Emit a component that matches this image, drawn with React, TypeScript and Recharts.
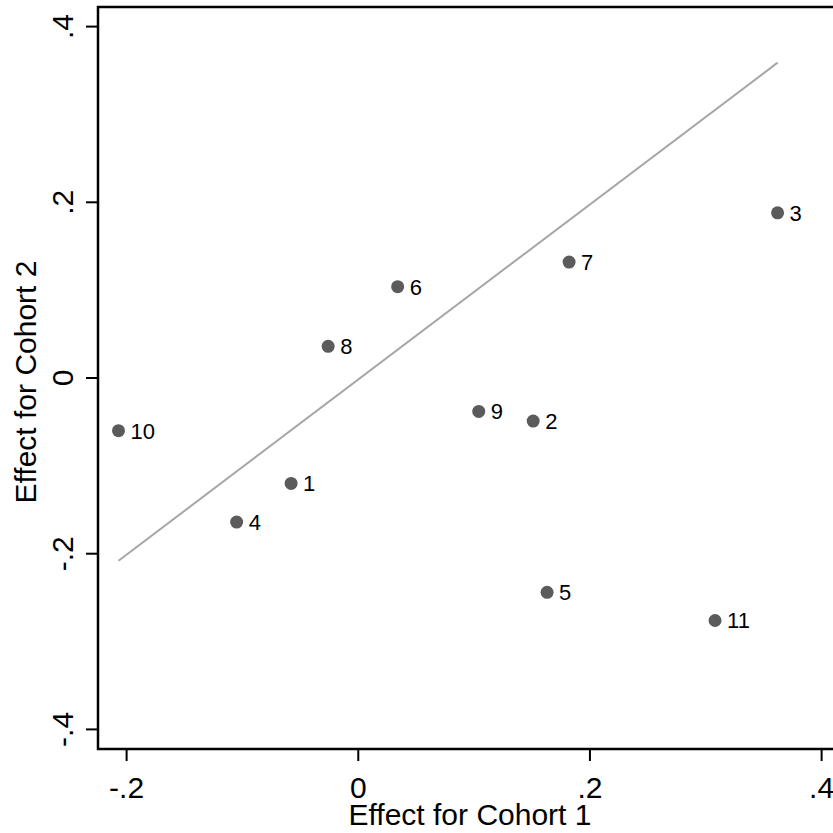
import React from "react";
import {
  ScatterChart,
  Scatter,
  XAxis,
  YAxis,
  ReferenceArea,
  LabelList,
} from "recharts";

const unitIds = ["1", "2", "3", "4", "5", "6", "7", "8", "9", "10", "11"];
const cohort1 = [-0.058, 0.151, 0.362, -0.105, 0.163, 0.034, 0.182, -0.026, 0.104, -0.207, 0.308];
const cohort2 = [-0.12, -0.049, 0.188, -0.164, -0.244, 0.104, 0.132, 0.036, -0.038, -0.06, -0.276];

const fitX = [-0.207, 0.362];
const fitY = [-0.208, 0.359];

const xTicks = [-0.2, 0, 0.2, 0.4];
const xTickLabels = ["-.2", "0", ".2", ".4"];
const yTicks = [-0.4, -0.2, 0, 0.2, 0.4];
const yTickLabels = ["-.4", "-.2", "0", ".2", ".4"];

const xDomain = [-0.2247, 0.4176];
const yDomain = [-0.4223, 0.4223];

const points = unitIds.map((id, i) => ({ id, x: cohort1[i], y: cohort2[i] }));
const fitLine = fitX.map((x, i) => ({ x, y: fitY[i] }));

const FONT = "'Liberation Sans', Arial, sans-serif";

const XTick = (props: any) => {
  const { x, y, payload } = props;
  const idx = xTicks.indexOf(payload.value);
  return (
    <text x={x} y={y + 37} textAnchor="middle" fontSize={30} fontFamily={FONT} fill="#000">
      {idx >= 0 ? xTickLabels[idx] : ""}
    </text>
  );
};

const YTick = (props: any) => {
  const { x, y, payload } = props;
  const idx = yTicks.indexOf(payload.value);
  const bx = x - 13;
  return (
    <text
      x={bx}
      y={y}
      textAnchor="middle"
      fontSize={30}
      fontFamily={FONT}
      fill="#000"
      transform={`rotate(-90, ${bx}, ${y})`}
    >
      {idx >= 0 ? yTickLabels[idx] : ""}
    </text>
  );
};

const YTitle = (props: any) => {
  const cy = 382;
  const bx = 36;
  return (
    <text
      x={bx}
      y={cy}
      textAnchor="middle"
      fontSize={30}
      fontFamily={FONT}
      fill="#000"
      transform={`rotate(-90, ${bx}, ${cy})`}
    >
      Effect for Cohort 2
    </text>
  );
};

const Dot = (props: any) => {
  const { cx, cy } = props;
  return <circle cx={cx} cy={cy} r={6.5} fill="#5b5b5b" />;
};

const PointLabel = (props: any) => {
  const { x, y, width, height, value } = props;
  const cx = x + (width || 0) / 2;
  const cy = y + (height || 0) / 2;
  return (
    <text x={cx + 12} y={cy + 8} fontSize={22} fontFamily={FONT} fill="#000">
      {value}
    </text>
  );
};

export default function App() {
  return (
    <div
      style={{
        position: "fixed",
        left: 0,
        top: 0,
        width: 833,
        height: 833,
        overflow: "hidden",
        background: "#fff",
      }}
    >
      <ScatterChart
        width={850}
        height={833}
        margin={{ top: 7, right: 8, left: 0, bottom: 0 }}
      >
        <XAxis
          type="number"
          dataKey="x"
          domain={xDomain}
          ticks={xTicks}
          allowDataOverflow
          height={84}
          tickSize={12}
          tickMargin={0}
          axisLine={false}
          tickLine={{ stroke: "#000", strokeWidth: 2 }}
          tick={<XTick />}
          label={{
            value: "Effect for Cohort 1",
            position: "insideBottom",
            offset: 8,
            fontSize: 30,
            fontFamily: FONT,
            fill: "#000",
          }}
        />
        <YAxis
          type="number"
          dataKey="y"
          domain={yDomain}
          ticks={yTicks}
          allowDataOverflow
          width={98}
          tickSize={12}
          tickMargin={0}
          axisLine={false}
          tickLine={{ stroke: "#000", strokeWidth: 2 }}
          tick={<YTick />}
          label={<YTitle />}
        />
        <ReferenceArea
          x1={xDomain[0]}
          x2={xDomain[1]}
          y1={yDomain[0]}
          y2={yDomain[1]}
          fill="none"
          stroke="#000"
          strokeWidth={2.5}
          ifOverflow="visible"
        />
        <Scatter
          data={fitLine}
          line={{ stroke: "#a6a6a6", strokeWidth: 2 }}
          shape={() => null}
          isAnimationActive={false}
        />
        <Scatter data={points} shape={<Dot />} isAnimationActive={false}>
          <LabelList dataKey="id" content={<PointLabel />} />
        </Scatter>
      </ScatterChart>
    </div>
  );
}
